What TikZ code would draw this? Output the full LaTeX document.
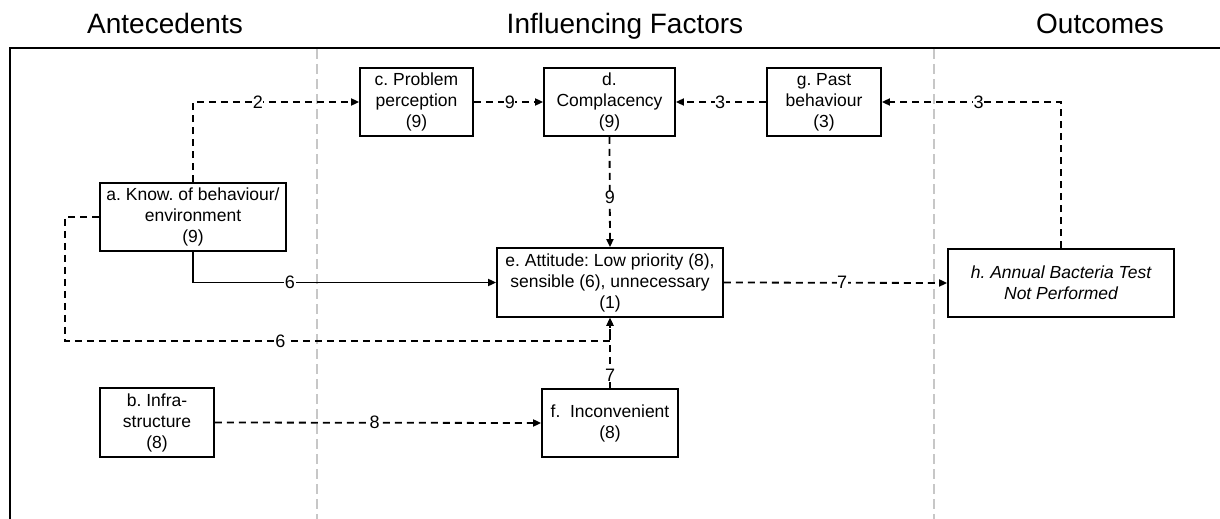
\documentclass[tikz,border=0pt]{standalone}
\usepackage{fontspec}
\setmainfont{Liberation Sans}
\frenchspacing
\usetikzlibrary{arrows.meta}
\begin{document}
\begin{tikzpicture}[x=1pt,y=-1pt,
  box/.style={draw, line width=1.8pt, align=center, font=\fontsize{17.5}{21}\selectfont, inner sep=0pt, minimum height=68pt},
  conn/.style={line width=1.8pt, -{Triangle[length=8pt,width=7pt]}},
  dconn/.style={conn, dash pattern=on 7pt off 5pt},
  lbl/.style={fill=white, inner sep=0.5pt, font=\fontsize{18}{21}\selectfont},
  ttl/.style={font=\fontsize{28}{32}\selectfont, anchor=base},
  sep/.style={draw=black!22, line width=1.4pt, dash pattern=on 10pt off 5pt}
]
\useasboundingbox (0,0) rectangle (1220,519);
% titles
\node[ttl] (t1) at (165,34) {Antecedents};
\node[ttl] (t2) at (625,34) {Influencing Factors};
\node[ttl] (t3) at (1100,34) {Outcomes};
% frame
\draw[line width=1.8pt] (10,530) -- (10,48) -- (1230,48);
% separators
\draw[sep] (317,49) -- (317,519);
\draw[sep] (934,49) -- (934,519);
% boxes
\node[box, minimum width=186pt] (a) at (193,217) {a. Know. of behaviour/\\environment\\(9)};
\node[box, minimum width=114pt, minimum height=69pt] (b) at (157,422.5) {b. Infra-\\structure\\(8)};
\node[box, minimum width=113pt] (c) at (416.5,102) {c. Problem\\perception\\(9)};
\node[box, minimum width=131pt] (d) at (609.5,102) {d.\\Complacency\\(9)};
\node[box, minimum width=114pt] (g) at (824,102) {g. Past\\behaviour\\(3)};
\node[box, minimum width=226pt, minimum height=69pt] (e) at (610,282.5) {e. Attitude: Low priority (8),\\sensible (6), unnecessary\\(1)};
\node[box, minimum width=226pt, font=\fontsize{17.5}{21}\selectfont\itshape] (h) at (1061,283) {h. Annual Bacteria Test\\Not Performed};
\node[box, minimum width=136pt] (f) at (610,423) {f.\ \ Inconvenient\\(8)};
% connectors
\draw[dconn] (a.north) |- node[lbl, pos=0.695] {2} (c.west);
\draw[dconn] (c.east) -- node[lbl, pos=0.52] {9} (d.west);
\draw[dconn] (g.west) -- node[lbl, pos=0.51] {3} (d.east);
\draw[dconn] (h.north) |- node[lbl, pos=0.73] {3} (g.east);
\draw[dconn] (d.south) -- node[lbl, pos=0.55] {9} (e.north);
\draw[conn] (a.south) |- node[lbl, pos=0.66] {6} (e.west);
\coordinate (aL) at (65,217);
\coordinate (aB) at (65,341);
\coordinate (eB) at (610,341);
\draw[dconn] (a.west) -- (aL) -- (aB) -- node[lbl, pos=0.395] {6} (eB) -- (e.south);
\draw[dconn] (f.north) -- node[lbl, pos=0.18] {7} (e.south);
\draw[dconn] (e.east) -- node[lbl, pos=0.53] {7} (h.west);
\draw[dconn] (b.east) -- node[lbl, pos=0.49] {8} (f.west);
\end{tikzpicture}
\end{document}
